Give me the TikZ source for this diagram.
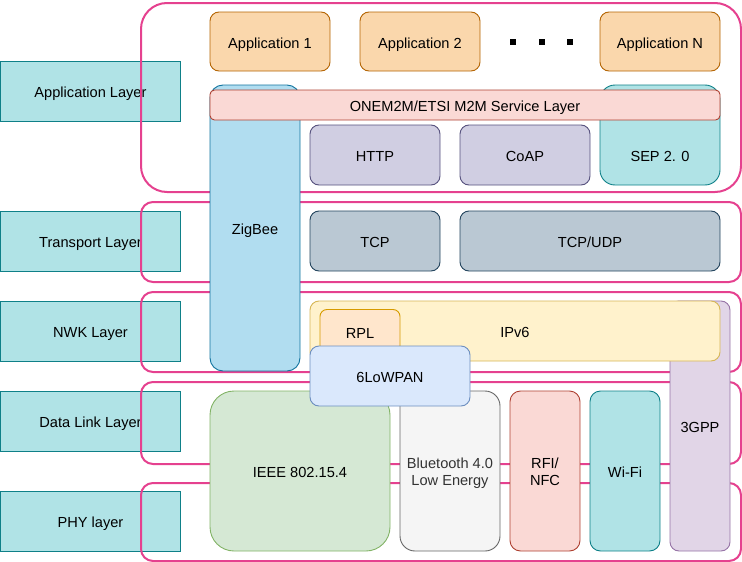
\documentclass[tikz,border=0pt]{standalone}
\usepackage{fontspec}
\setmainfont{Liberation Sans}
\definecolor{pinkc}{HTML}{E5418F}
\definecolor{tealf}{HTML}{B0E3E6}
\definecolor{teald}{HTML}{0E8088}
\definecolor{appf}{HTML}{FAD7AC}\definecolor{appd}{HTML}{B46504}
\definecolor{redf}{HTML}{FAD9D5}\definecolor{redd}{HTML}{AE4132}
\definecolor{zbf}{HTML}{B1DDF0}\definecolor{zbd}{HTML}{10739E}
\definecolor{purf}{HTML}{D0CEE2}\definecolor{purd}{HTML}{56517E}
\definecolor{tcpf}{HTML}{BAC8D3}\definecolor{tcpd}{HTML}{23445D}
\definecolor{ipf}{HTML}{FFF2CC}\definecolor{ipd}{HTML}{D6B656}
\definecolor{rplf}{HTML}{FFE6CC}\definecolor{rpld}{HTML}{D79B00}
\definecolor{lowf}{HTML}{DAE8FC}\definecolor{lowd}{HTML}{6C8EBF}
\definecolor{gppf}{HTML}{E1D5E7}\definecolor{gppd}{HTML}{9673A6}
\definecolor{ieef}{HTML}{D5E8D4}\definecolor{ieed}{HTML}{82B366}
\definecolor{btf}{HTML}{F5F5F5}\definecolor{btd}{HTML}{666666}\definecolor{btt}{HTML}{333333}
\begin{document}
\begin{tikzpicture}[x=1pt,y=-1pt,
  every node/.style={font=\fontsize{14.6}{17}\selectfont},
  box/.style={draw,line width=0.9pt,inner sep=0pt,anchor=center,align=center,
    text height=13pt,text depth=0pt},
  twoline/.style={text height=28.4pt,text depth=0pt},
  frame/.style={draw=pinkc,line width=2pt,inner sep=0pt,anchor=north west},
  layerbox/.style={box,fill=tealf,draw=teald},
  appbox/.style={box,fill=appf,draw=appd},
]
\useasboundingbox (0,0) rectangle (742,562);
% left layer boxes
\node[layerbox,minimum width=180pt,minimum height=60pt] (appL) at (90.5,91) {Application Layer};
\node[layerbox,minimum width=180pt,minimum height=60pt] (trL) at (90.5,241) {Transport Layer};
\node[layerbox,minimum width=180pt,minimum height=60pt] (nwkL) at (90.5,331) {NWK Layer};
\node[layerbox,minimum width=180pt,minimum height=60pt] (dlL) at (90.5,421) {Data Link Layer};
\node[layerbox,minimum width=180pt,minimum height=60pt] (phyL) at (90.5,521) {PHY layer};
% pink frames
\node[frame,minimum width=600pt,minimum height=189pt,rounded corners=26pt] (fApp) at (140,2) {};
\node[frame,minimum width=600pt,minimum height=80pt,rounded corners=12pt] (fTr) at (140,201) {};
\node[frame,minimum width=600pt,minimum height=80pt,rounded corners=12pt] (fNwk) at (140,291) {};
\node[frame,minimum width=600pt,minimum height=82pt,rounded corners=12pt] (fDl) at (140,381) {};
\node[frame,minimum width=600pt,minimum height=78pt,rounded corners=12pt] (fPhy) at (140,482) {};
% applications
\node[appbox,minimum width=120pt,minimum height=59pt,rounded corners=9pt] (app1) at (270,41.5) {Application 1};
\node[appbox,minimum width=120pt,minimum height=59pt,rounded corners=9pt] (app2) at (420,41.5) {Application 2};
\node[appbox,minimum width=120pt,minimum height=59pt,rounded corners=9pt] (appN) at (660,41.5) {Application N};
\foreach \i/\xx in {1/513,2/542,3/570}
  \node[fill=black,inner sep=0pt,minimum size=5.5pt] (dot\i) at (\xx,42) {};
% ZigBee and SEP
\node[box,fill=zbf,draw=zbd,minimum width=90pt,minimum height=286pt,rounded corners=13pt] (zigbee) at (255,228) {ZigBee};
\node[box,fill=tealf,draw=teald,minimum width=120pt,minimum height=100pt,rounded corners=15pt,
  label={[yshift=-20pt,text height=13pt,text depth=0pt,inner sep=0pt]center:SEP 2. 0}] (sep) at (660,135) {};
\node[box,fill=redf,draw=redd,minimum width=510pt,minimum height=30pt,rounded corners=4.5pt] (onem2m) at (465,105) {ONEM2M/ETSI M2M Service Layer};
\node[box,fill=purf,draw=purd,minimum width=130pt,minimum height=60pt,rounded corners=9pt] (http) at (375,155) {HTTP};
\node[box,fill=purf,draw=purd,minimum width=130pt,minimum height=60pt,rounded corners=9pt] (coap) at (525,155) {CoAP};
% transport
\node[box,fill=tcpf,draw=tcpd,minimum width=130pt,minimum height=60pt,rounded corners=9pt] (tcp) at (375,241) {TCP};
\node[box,fill=tcpf,draw=tcpd,minimum width=260pt,minimum height=60pt,rounded corners=9pt] (tcpudp) at (590,241) {TCP/UDP};
% network
\node[box,fill=gppf,draw=gppd,minimum width=60pt,minimum height=250pt,rounded corners=9pt] (gpp) at (700,426) {3GPP};
\node[box,fill=ipf,draw=ipd,minimum width=410pt,minimum height=60pt,rounded corners=9pt] (ipv6) at (515,331) {IPv6};
\node[box,fill=rplf,draw=rpld,minimum width=80pt,minimum height=45pt,rounded corners=7pt] (rpl) at (360,332) {RPL};
% link / phy
\node[box,fill=ieef,draw=ieed,minimum width=180pt,minimum height=160pt,rounded corners=24pt] (ieee) at (300,471) {IEEE 802.15.4};
\node[box,twoline,fill=btf,draw=btd,text=btt,minimum width=100pt,minimum height=160pt,rounded corners=15pt] (bt) at (450,471) {Bluetooth 4.0\\Low Energy};
\node[box,twoline,fill=redf,draw=redd,minimum width=70pt,minimum height=160pt,rounded corners=10.5pt] (rfi) at (545,471) {RFI/\\NFC};
\node[box,fill=tealf,draw=teald,minimum width=70pt,minimum height=160pt,rounded corners=10.5pt] (wifi) at (625,471) {Wi-Fi};
\node[box,fill=lowf,draw=lowd,minimum width=160pt,minimum height=60pt,rounded corners=9pt] (lowpan) at (390,376) {6LoWPAN};
\end{tikzpicture}
\end{document}
